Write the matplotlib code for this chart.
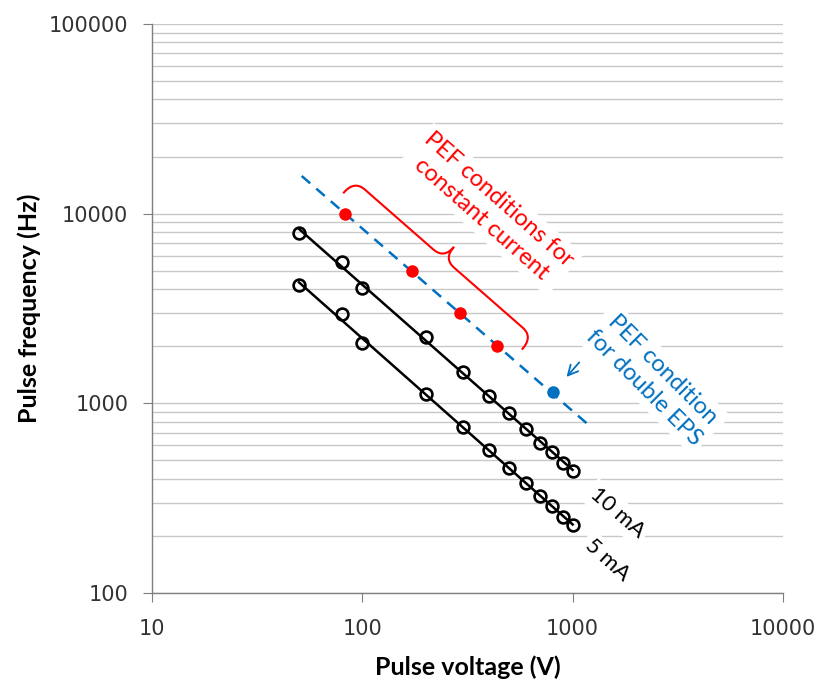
import numpy as np
import matplotlib
matplotlib.use("Agg")
import matplotlib.pyplot as plt

# data
volt = [50, 80, 100, 200, 300, 400, 500, 600, 700, 800, 900, 1000]
freq_10ma = [7880, 5580, 4040, 2250, 1470, 1090, 890, 730, 620, 553, 487, 442]
freq_5ma = [4210, 2960, 2090, 1120, 748, 568, 455, 379, 325, 288, 253, 229]

pef_volt = [83, 172, 291, 436]
pef_freq = [10000, 5000, 3000, 2000]

eps_volt = [804]
eps_freq = [1145]

eps_line_volt = [51.5, 1240]
eps_line_freq = [15800, 740]

RED = '#FF0000'
BLUE = '#0070C0'
TXT = 'Lato'

fig = plt.figure(figsize=(8.2, 6.82), dpi=100)
ax = fig.add_axes([152 / 820, 1 - 593 / 682, 631 / 820, 569 / 682])
ax.set_xscale('log')
ax.set_yscale('log')
ax.set_xlim(10, 10000)
ax.set_ylim(100, 100000)

ax.grid(True, which='both', axis='y', color='#c8c8c8', linewidth=1.0)
ax.set_axisbelow(True)
for s in ['top', 'right']:
    ax.spines[s].set_visible(False)
for s in ['left', 'bottom']:
    ax.spines[s].set_color('#7f7f7f')
    ax.spines[s].set_linewidth(1.0)

ax.tick_params(which='major', length=6.5, color='#7f7f7f', labelsize=15, labelcolor='#333333')
ax.tick_params(axis='x', pad=12)
ax.tick_params(axis='y', pad=10.5)
ax.tick_params(which='minor', length=0)
ax.xaxis.set_major_locator(matplotlib.ticker.LogLocator(base=10, numticks=10))
ax.xaxis.set_minor_locator(matplotlib.ticker.LogLocator(base=10, subs=np.arange(2, 10), numticks=20))
ax.yaxis.set_minor_locator(matplotlib.ticker.LogLocator(base=10, subs=np.arange(2, 10), numticks=20))
fmt = matplotlib.ticker.FuncFormatter(lambda v, p: '%d' % v)
ax.xaxis.set_major_formatter(fmt)
ax.yaxis.set_major_formatter(fmt)
ax.xaxis.set_minor_formatter(matplotlib.ticker.NullFormatter())
ax.yaxis.set_minor_formatter(matplotlib.ticker.NullFormatter())

ax.set_xlabel('Pulse voltage (V)', fontsize=18, fontweight='bold', family=TXT, labelpad=12)
ax.set_ylabel('Pulse frequency (Hz)', fontsize=18, fontweight='bold', family=TXT, labelpad=6)

# power-law trend lines through the black series (like the spreadsheet trendline)
for f in (freq_10ma, freq_5ma):
    k, b = np.polyfit(np.log10(volt), np.log10(f), 1)
    vx = np.array([min(volt), max(volt)])
    ax.plot(vx, 10 ** (b + k * np.log10(vx)), color='black', lw=1.8, zorder=3)
    ax.plot(volt, f, ls='none', marker='o', ms=8.5, mfc='none', mec='black', mew=1.9, zorder=3)

ax.plot(eps_line_volt, eps_line_freq, color=BLUE, lw=1.8, ls=(0, (4.5, 3.2)), zorder=3)
ax.plot(pef_volt, pef_freq, ls='none', marker='o', ms=9, color=RED, mec='none', zorder=4)
ax.plot(eps_volt, eps_freq, ls='none', marker='o', ms=9, color=BLUE, mec='none', zorder=4)

# curly brace next to the red points (built in pixel space)
to_disp = ax.transData
to_data = ax.transData.inverted()
p0 = np.array(to_disp.transform((pef_volt[0], pef_freq[0])))
p3 = np.array(to_disp.transform((pef_volt[-1], pef_freq[-1])))
L = np.linalg.norm(p3 - p0)
d = (p3 - p0) / L
n = np.array([-d[1], d[0]])
if n[0] < 0:
    n = -n


def quad(a, c, b, k=25):
    t = np.linspace(0, 1, k)[:, None]
    a, c, b = np.array(a), np.array(c), np.array(b)
    return (1 - t) ** 2 * a + 2 * (1 - t) * t * c + t ** 2 * b


u0, u1, um = -15, L + 21, (L + 6) / 2
v0, vb, vc, r = 15, 31, 46, 14
pts = np.vstack([
    quad((u0, v0), (u0, vb), (u0 + r, vb)),
    quad((u0 + r, vb), (um - r, vb), (um - r, vb), 2),
    quad((um - r, vb), (um, vb), (um, vc)),
    quad((um, vc), (um, vb), (um + r, vb)),
    quad((um + r, vb), (u1 - r, vb), (u1 - r, vb), 2),
    quad((u1 - r, vb), (u1, vb), (u1, v0)),
])
disp = p0 + pts[:, :1] * d + pts[:, 1:] * n
brace = to_data.transform(disp)
ax.plot(brace[:, 0], brace[:, 1], color=RED, lw=1.5, zorder=3)

# annotations
box = dict(facecolor='white', edgecolor='none', pad=3)
ax.text(0.536, 0.674, 'PEF conditions for\nconstant current', transform=ax.transAxes,
        rotation=-41.5, rotation_mode='anchor', ha='center', va='center', color=RED,
        fontsize=17, family=TXT, linespacing=1.3, bbox=box, zorder=5)
ax.text(0.795, 0.377, 'PEF condition\nfor double EPS', transform=ax.transAxes,
        rotation=-45, rotation_mode='anchor', ha='center', va='center', color=BLUE,
        fontsize=17, family=TXT, linespacing=1.3, bbox=box, zorder=5)
ax.text(0.737, 0.141, '10 mA', transform=ax.transAxes, rotation=-41,
        rotation_mode='anchor', ha='center', va='center', color='black',
        fontsize=16, family=TXT, bbox=box, zorder=5)
ax.text(0.721, 0.058, '5 mA', transform=ax.transAxes, rotation=-42,
        rotation_mode='anchor', ha='center', va='center', color='black',
        fontsize=16, family=TXT, bbox=box, zorder=5)
ax.annotate('', xy=(0.654, 0.376), xytext=(0.680, 0.409), xycoords='axes fraction',
            arrowprops=dict(arrowstyle='->', color=BLUE, lw=1.3, mutation_scale=18))

fig.savefig('out.png', dpi=100)
